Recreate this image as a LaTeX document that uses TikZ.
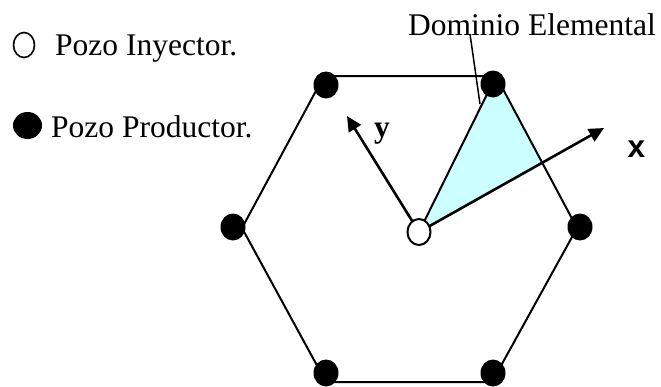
\documentclass[tikz,border=0pt]{standalone}
\usepackage{fontspec}
\setmainfont{Liberation Serif}
\newfontfamily\sansb{Liberation Sans}
\usetikzlibrary{shapes.geometric,arrows.meta}
\definecolor{domcyan}{RGB}{204,255,255}
\begin{document}
\begin{tikzpicture}[x=1pt,y=-1pt,
  well/.style={ellipse,inner sep=0pt,minimum width=25pt,minimum height=27pt},
  prod/.style={well,fill=black},
  inj/.style={well,draw=black,fill=white,line width=2pt,minimum width=23pt,minimum height=26pt},
  edge/.style={line width=2pt},
  axis/.style={line width=2.6pt,-{Triangle[length=15pt,width=14pt]}},
  lbl/.style={inner sep=0pt,font=\fontsize{31.5}{36}\selectfont}]
\useasboundingbox (0,0) rectangle (661,386);
% hexagon vertices
\coordinate (vTL) at (324,76);
\coordinate (vTR) at (496,76);
\coordinate (vR) at (577,228);
\coordinate (vBR) at (492,382);
\coordinate (vBL) at (326,382);
\coordinate (vL) at (242,228);
\coordinate (cen) at (419,232);
\coordinate (xint) at (542.6,162);
\coordinate (xtip) at (604,128);
\coordinate (ytip) at (347,116);
% domain triangle
\fill[domcyan] (cen) -- (vTR) -- (xint) -- cycle;
\draw[edge] (vTL) -- (vTR) -- (vR) -- (vBR) -- (vBL) -- (vL) -- cycle;
\draw[edge] (cen) -- (vTR);
% pointer
\coordinate (pstart) at (470,34);
\coordinate (pend) at (480,104);
\draw[line width=1.5pt] (pstart) -- (pend);
% axes
\draw[axis] (cen) -- (xtip);
\draw[axis] (cen) -- (ytip);
% wells
\node[prod] (pTL) at (326,85) {};
\node[prod] (pTR) at (493,84) {};
\node[prod] (pL) at (233,227) {};
\node[prod] (pR) at (580,227) {};
\node[prod] (pBL) at (326,373) {};
\node[prod] (pBR) at (493,373) {};
\node[inj] (inj) at (cen) {};
% labels
\node[lbl,anchor=base west] (tdom) at (408,35) {Dominio Elemental};
\node[lbl,anchor=base west] (tinj) at (55,55) {Pozo Inyector.};
\node[lbl,anchor=base west] (tprod) at (51,137) {Pozo Productor.};
\node[well,draw=black,fill=white,line width=1.6pt,minimum width=21pt,minimum height=25pt] (legi) at (24,45) {};
\node[well,fill=black,minimum width=29pt,minimum height=27pt] (legp) at (27.5,125.5) {};
\node[lbl,anchor=base] (ty) at (382,137) {\bfseries y};
\node[lbl,anchor=base] (tx) at (636.5,157) {\sansb\bfseries x};
\end{tikzpicture}
\end{document}
